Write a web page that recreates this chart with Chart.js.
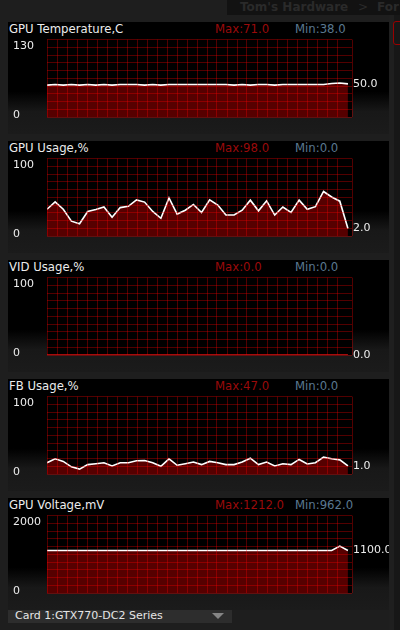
<!DOCTYPE html>
<html><head><meta charset="utf-8">
<script src="https://cdn.jsdelivr.net/npm/chart.js@4.4.0/dist/chart.umd.min.js"></script>
<style>
html,body{margin:0;padding:0;width:400px;height:630px;overflow:hidden;background:#1e1e1e;font-family:"DejaVu Sans",Verdana,sans-serif;}
.panel{position:absolute;left:8px;width:381px;height:112px;background:linear-gradient(to bottom,#000 0%,#000 62%,#181818 80%,#1b1b1b 100%);}
.t{position:absolute;top:0;height:15px;line-height:15px;font-size:11.7px;white-space:nowrap;}
.panel canvas{position:absolute;left:0;top:10px;}
#site{position:absolute;left:227px;top:0;width:173px;height:15px;background:#121212;color:#2a2a2a;font:bold 12px "DejaVu Sans",sans-serif;line-height:15px;white-space:nowrap;overflow:hidden;}
#strip{position:absolute;left:389px;top:15px;width:11px;height:615px;background:#171717;border-left:5px solid #1f1f1f;}
#redbox{position:absolute;left:393px;top:21px;width:12px;height:22px;border:1px solid #9a0000;border-radius:3px;}
#dd{position:absolute;left:8px;top:608px;width:224px;height:15px;background:#2d2d2d;}
#dd span{position:absolute;left:7px;top:0;line-height:15px;font-size:11px;color:#e6e6e6;white-space:nowrap;}
#dd i{position:absolute;left:204px;top:5px;width:0;height:0;border-left:6px solid transparent;border-right:6px solid transparent;border-top:6px solid #858585;}
</style></head>
<body>
<div id="site"><span style="position:absolute;left:13px">Tom's Hardware</span><span style="position:absolute;left:131px;font-weight:normal">&gt;</span><span style="position:absolute;left:150px">For</span></div>
<div id="strip"></div>
<div id="redbox"></div>
<div id="dd"><span>Card 1:GTX770-DC2 Series</span><i></i></div>
<script>
const titles = ['GPU Temperature,C','GPU Usage,%','VID Usage,%','FB Usage,%','GPU Voltage,mV'];
const maxTexts = ['Max:71.0','Max:98.0','Max:0.0','Max:47.0','Max:1212.0'];
const minTexts = ['Min:38.0','Min:0.0','Min:0.0','Min:0.0','Min:962.0'];
const scaleMax = [130,100,100,100,2000];
const scaleMaxLabels = ['130','100','100','100','2000'];
const currentTexts = ['50.0','2.0','0.0','1.0','1100.0'];

const tempValues = [53.5,54.6,53.5,54.6,53.5,54.6,53.5,54.6,53.5,54.6,54.6,54.6,53.5,54.6,53.5,54.6,54.6,54.6,54.6,54.6,
  54.6,54.6,54.6,53.5,54.6,53.5,54.6,54.6,53.5,54.6,54.6,54.6,54.6,54.6,54.6,56.3,57.0,55.6];
const gpuUsage = [34.6,44.2,34.6,19.2,15.8,31.7,34.2,37.5,24.2,36.7,38.3,46.7,43.8,31.7,22.9,49.2,28.3,33.3,40.8,30.4,
  46.7,40.0,27.1,27.1,33.3,46.3,32.5,45.4,27.1,37.5,30.4,46.3,34.6,37.9,57.5,50.4,45.0,9.6];
const vidUsage = [0,0,0,0,0,0,0,0,0,0,0,0,0,0,0,0,0,0,0,0,0,0,0,0,0,0,0,0,0,0,0,0,0,0,0,0,0,0];
const fbUsage = [14.6,19.6,16.3,9.2,6.3,12.1,13.3,14.6,10.4,14.6,14.6,17.1,17.5,14.6,10.0,19.6,11.3,13.3,15.4,12.1,
  16.3,14.6,12.1,12.1,15.4,20.4,12.1,15.4,10.4,13.3,12.1,18.8,12.9,14.6,21.7,19.6,18.3,10.4];
const voltage = [1100,1100,1100,1100,1100,1100,1100,1100,1100,1100,1100,1100,1100,1100,1100,1100,1100,1100,1100,1100,
  1100,1100,1100,1100,1100,1100,1100,1100,1100,1100,1100,1100,1100,1100,1100,1100,1212,1100];
const series = [tempValues,gpuUsage,vidUsage,fbUsage,voltage];
const lineColors = ['#ffffff','#ffffff','#dd1111','#ffffff','#ffffff'];
const panelTops = [22,141,260,379,498];

const GRID = 'rgba(255,0,0,0.32)';
const FONT = {family:'"DejaVu Sans", Verdana, sans-serif', size:11};
const plotBg = {id:'plotBg', beforeDraw(c){const a=c.chartArea,x=c.ctx;x.save();x.fillStyle='#000';x.fillRect(a.left,a.top,a.right-a.left,a.bottom-a.top);x.restore();}};

series.forEach((vals, p) => {
  const panel = document.createElement('div');
  panel.className = 'panel';
  panel.style.top = panelTops[p] + 'px';
  panel.innerHTML = '<span class="t" style="left:1px;color:#ececec">'+titles[p]+'</span>'+
    '<span class="t" style="left:207px;color:#9a0a0a">'+maxTexts[p]+'</span>'+
    '<span class="t" style="left:287px;color:#5a7890">'+minTexts[p]+'</span>';
  const cv = document.createElement('canvas');
  cv.width = 381; cv.height = 95;
  panel.appendChild(cv);
  document.body.appendChild(panel);
  const M = scaleMax[p];
  const last = vals[vals.length-1];
  new Chart(cv, {
    type:'line',
    data:{datasets:[{data: vals.map((v,i)=>({x:i,y:v})), borderColor:lineColors[p], borderWidth:1.6,
      pointRadius:0, tension:0, fill:'start', backgroundColor:'#560000', xAxisID:'x', yAxisID:'y'}]},
    plugins:[plotBg],
    options:{
      responsive:false, animation:false, devicePixelRatio:1,
      layout:{padding:{left:5,right:0,top:5,bottom:10}},
      plugins:{legend:{display:false}, tooltip:{enabled:false}},
      scales:{
        x:{type:'linear', min:0, max:37.5, display:false},
        xGrid:{type:'linear', min:0, max:30.5, position:'bottom', ticks:{display:false, stepSize:1},
          grid:{color:GRID, drawTicks:false, z:1}, border:{display:false}, afterFit(s){s.height=0;}},
        y:{type:'linear', min:0, max:M, position:'left', ticks:{display:false, stepSize:M/10},
          grid:{color:GRID, drawTicks:false, z:1}, border:{display:false}, afterFit(s){s.width=0;}},
        yLabel:{type:'linear', position:'left', min:-1.5*M/71.5, max:78.5*M/71.5,
          afterBuildTicks(s){s.ticks=[{value:M},{value:0}];},
          ticks:{color:'#ececec', font:FONT, crossAlign:'far', padding:0, autoSkip:false,
            callback(v){return v===0?'0':scaleMaxLabels[p];}},
          grid:{display:false, drawTicks:false}, border:{display:false}, afterFit(s){s.width=34;}},
        yCur:{type:'linear', position:'right', min:0, max:M,
          afterBuildTicks(s){s.ticks=[{value:last}];},
          ticks:{color:'#ececec', font:FONT, padding:1, autoSkip:false, callback(){return currentTexts[p];}},
          grid:{display:false, drawTicks:false}, border:{display:false}, afterFit(s){s.width=37;}}
      }
    }
  });
});
</script>
</body></html>
